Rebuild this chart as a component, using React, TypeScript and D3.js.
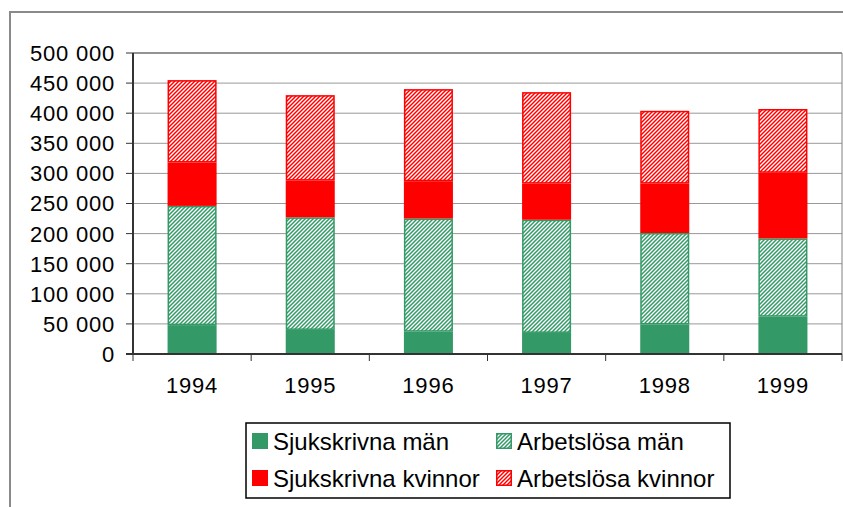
import React from 'react';
import * as d3 from 'd3';

const years = ['1994', '1995', '1996', '1997', '1998', '1999'];
const sjukskrivnaMan = [48000, 40000, 37000, 35000, 49000, 62000];
const arbetslosaMan = [198000, 187000, 188000, 188000, 152000, 130000];
const sjukskrivnaKvinnor = [72000, 61000, 62000, 60000, 82000, 109000];
const arbetslosaKvinnor = [137000, 142000, 153000, 152000, 121000, 106000];
const yTicks = [0, 50000, 100000, 150000, 200000, 250000, 300000, 350000, 400000, 450000, 500000];
const seriesNames = ['Sjukskrivna män', 'Arbetslösa män', 'Sjukskrivna kvinnor', 'Arbetslösa kvinnor'];

const GREEN = '#339966';
const RED = '#ff0000';
const FONT = 'Liberation Sans, Arial, sans-serif';

export default function App() {
  const W = 843, H = 507;
  const x = d3.scaleBand<string>().domain(years).range([133, 842]).paddingInner(0.585).paddingOuter(0.2925);
  const y = d3.scaleLinear().domain([0, 500000]).range([354, 53]);
  const fmt = d3.formatLocale({ thousands: ' ', grouping: [3], decimal: ',', currency: ['', ''] }).format(',');

  const keys = ['sm', 'am', 'sk', 'ak'];
  const rows = years.map((yr, i) => ({
    year: yr,
    sm: sjukskrivnaMan[i],
    am: arbetslosaMan[i],
    sk: sjukskrivnaKvinnor[i],
    ak: arbetslosaKvinnor[i],
  }));
  const stacked = d3.stack<any>().keys(keys)(rows);
  const styles = [
    { color: GREEN, hatch: false },
    { color: GREEN, hatch: true },
    { color: RED, hatch: false },
    { color: RED, hatch: true },
  ];
  const step = x.step();
  const x0 = x.range()[0];

  const legendItems = [
    { i: 0, lx: 252, ly: 433 },
    { i: 1, lx: 496, ly: 433 },
    { i: 2, lx: 252, ly: 470 },
    { i: 3, lx: 496, ly: 470 },
  ];

  return (
    <div style={{ position: 'fixed', left: 0, top: 0 }}>
      <svg width={W} height={H} style={{ display: 'block', background: '#fff' }}>
        <defs>
          {[['hG', GREEN], ['hR', RED]].map(([id, c]) => (
            <pattern key={id} id={id} patternUnits="userSpaceOnUse" width={4} height={4}>
              <rect width={4} height={4} fill="#fff" />
              <path d="M-1,1 L1,-1 M0,4 L4,0 M3,5 L5,3" stroke={c} strokeWidth={1.5} />
            </pattern>
          ))}
        </defs>
        {/* outer frame */}
        <rect x={10} y={12} width={W} height={H} fill="none" stroke="#8a8a8a" strokeWidth={2} />
        {/* gridlines */}
        {yTicks.map((t) => (
          <line key={'g' + t} x1={133} x2={842} y1={y(t)} y2={y(t)} stroke="#999" strokeWidth={1} />
        ))}
        <line x1={133} x2={842} y1={53} y2={53} stroke="#808080" strokeWidth={1.5} />
        <line x1={842} x2={842} y1={53} y2={354} stroke="#808080" strokeWidth={1} />
        {/* bars */}
        {stacked.map((s, si) => (
          <g key={s.key}>
            {s.map((d: any, di: number) => {
              const st = styles[si];
              const bx = x(years[di]) as number;
              const bw = x.bandwidth();
              const top = y(d[1]);
              const bot = y(d[0]);
              if (st.hatch) {
                return (
                  <rect key={di} x={bx + 0.75} y={top + 0.75} width={bw - 1.5} height={bot - top - 1.5}
                    fill={st.color === GREEN ? 'url(#hG)' : 'url(#hR)'} stroke={st.color} strokeWidth={1.5} />
                );
              }
              return <rect key={di} x={bx} y={top} width={bw} height={bot - top} fill={st.color} />;
            })}
          </g>
        ))}
        {/* axes */}
        <line x1={133} x2={133} y1={53} y2={355} stroke="#333" strokeWidth={2} />
        <line x1={126} x2={842} y1={354} y2={354} stroke="#333" strokeWidth={2} />
        {yTicks.map((t) => (
          <g key={'t' + t}>
            <line x1={126} x2={133} y1={y(t)} y2={y(t)} stroke="#333" strokeWidth={1} />
            <text x={115} y={y(t)} dy="0.36em" textAnchor="end" fontFamily={FONT} fontSize={22} letterSpacing={0.8} fill="#000">
              {fmt(t)}
            </text>
          </g>
        ))}
        {d3.range(years.length + 1).map((i) => (
          <line key={'xt' + i} x1={x0 + i * step} x2={x0 + i * step} y1={354} y2={361} stroke="#333" strokeWidth={1} />
        ))}
        {years.map((yr) => (
          <text key={yr} x={(x(yr) as number) + x.bandwidth() / 2} y={393} textAnchor="middle" fontFamily={FONT} fontSize={22} letterSpacing={0.8} fill="#000">
            {yr}
          </text>
        ))}
        {/* legend */}
        <rect x={246} y={423} width={484} height={75} fill="#fff" stroke="#000" strokeWidth={1.5} />
        {legendItems.map(({ i, lx, ly }) => {
          const st = styles[i];
          return (
            <g key={'l' + i}>
              {st.hatch ? (
                <rect x={lx + 0.75} y={ly + 0.75} width={14.5} height={14.5} fill={st.color === GREEN ? 'url(#hG)' : 'url(#hR)'} stroke={st.color} strokeWidth={1.5} />
              ) : (
                <rect x={lx} y={ly} width={16} height={16} fill={st.color} />
              )}
              <text x={lx + 21} y={ly + 17} fontFamily={FONT} fontSize={24} fill="#000">
                {seriesNames[i]}
              </text>
            </g>
          );
        })}
      </svg>
    </div>
  );
}
